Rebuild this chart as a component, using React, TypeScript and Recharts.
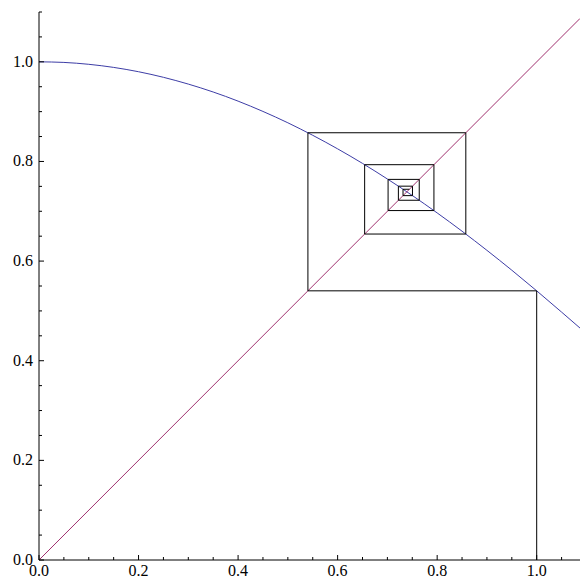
import { ComposedChart, Line, XAxis, YAxis } from 'recharts'

// cos(x) curve
const curveX = [0, 0.05, 0.1, 0.15, 0.2, 0.25, 0.3, 0.35, 0.4, 0.45, 0.5, 0.55, 0.6, 0.65, 0.7, 0.75, 0.8, 0.85, 0.9, 0.95, 1.0, 1.05, 1.087]
const curveY = [1.0, 0.9988, 0.995, 0.9888, 0.9801, 0.9689, 0.9553, 0.9394, 0.9211, 0.9004, 0.8776, 0.8525, 0.8253, 0.7961, 0.7648, 0.7317, 0.6967, 0.66, 0.6216, 0.5817, 0.5403, 0.4976, 0.4656]

// y = x diagonal
const diagX = [0, 1.087]
const diagY = [0, 1.087]

// cobweb iterates starting at x0 = 1
const iterates = [1.0, 0.5403, 0.8576, 0.6543, 0.7935, 0.7014, 0.764, 0.7221, 0.7504, 0.7314, 0.7442]

const xTicks = [0, 0.05, 0.1, 0.15, 0.2, 0.25, 0.3, 0.35, 0.4, 0.45, 0.5, 0.55, 0.6, 0.65, 0.7, 0.75, 0.8, 0.85, 0.9, 0.95, 1.0, 1.05]
const yTicks = [0, 0.05, 0.1, 0.15, 0.2, 0.25, 0.3, 0.35, 0.4, 0.45, 0.5, 0.55, 0.6, 0.65, 0.7, 0.75, 0.8, 0.85, 0.9, 0.95, 1.0, 1.05, 1.1]

const curve = curveX.map((x, i) => ({ x, y: curveY[i] }))
const diag = diagX.map((x, i) => ({ x, y: diagY[i] }))

const cobweb: { x: number; y: number }[] = [{ x: iterates[0], y: 0 }]
for (let i = 0; i < iterates.length - 1; i++) {
  cobweb.push({ x: iterates[i], y: iterates[i + 1] })
  cobweb.push({ x: iterates[i + 1], y: iterates[i + 1] })
}

const font = "'Liberation Serif', 'DejaVu Serif', serif"

const isMajor = (v: number) => Math.abs(v * 5 - Math.round(v * 5)) < 1e-6

function XTick(props: any) {
  const { x, y, payload } = props
  const major = isMajor(payload.value)
  return (
    <g>
      <line x1={x} x2={x} y1={y} y2={y - (major ? 5 : 3)} stroke="#000" strokeWidth={1} />
      {major && (
        <text x={x} y={y + 16} textAnchor="middle" fontSize={16} fontFamily={font} fill="#000">
          {payload.value.toFixed(1)}
        </text>
      )}
    </g>
  )
}

function YTick(props: any) {
  const { x, y, payload } = props
  const major = isMajor(payload.value)
  return (
    <g>
      <line x1={x} x2={x + (major ? 5 : 3)} y1={y} y2={y} stroke="#000" strokeWidth={1} />
      {major && (
        <text x={x - 6} y={y + 5} textAnchor="end" fontSize={16} fontFamily={font} fill="#000">
          {payload.value.toFixed(1)}
        </text>
      )}
    </g>
  )
}

export default function App() {
  return (
    <div style={{ position: 'absolute', left: 0, top: 0, width: 580, height: 579, background: '#fff' }}>
      <ComposedChart width={580} height={579} margin={{ top: 12, right: 0, bottom: 0, left: 0 }}>
        <XAxis
          type="number"
          dataKey="x"
          domain={[0, 1.087]}
          allowDataOverflow
          ticks={xTicks}
          interval={0}
          tickSize={0}
          tickMargin={0}
          tickLine={false}
          height={19}
          axisLine={{ stroke: '#000' }}
          tick={<XTick />}
        />
        <YAxis
          type="number"
          dataKey="y"
          domain={[0, 1.1]}
          allowDataOverflow
          ticks={yTicks}
          interval={0}
          tickSize={0}
          tickMargin={0}
          tickLine={false}
          width={39}
          axisLine={{ stroke: '#000' }}
          tick={<YTick />}
        />
        <Line data={curve} dataKey="y" type="monotone" stroke="#3D3DA6" strokeWidth={1} dot={false} activeDot={false} isAnimationActive={false} />
        <Line data={diag} dataKey="y" type="linear" stroke="#A0306E" strokeWidth={1} dot={false} activeDot={false} isAnimationActive={false} />
        <Line data={cobweb} dataKey="y" type="linear" stroke="#000" strokeWidth={1} dot={false} activeDot={false} isAnimationActive={false} />
      </ComposedChart>
    </div>
  )
}
